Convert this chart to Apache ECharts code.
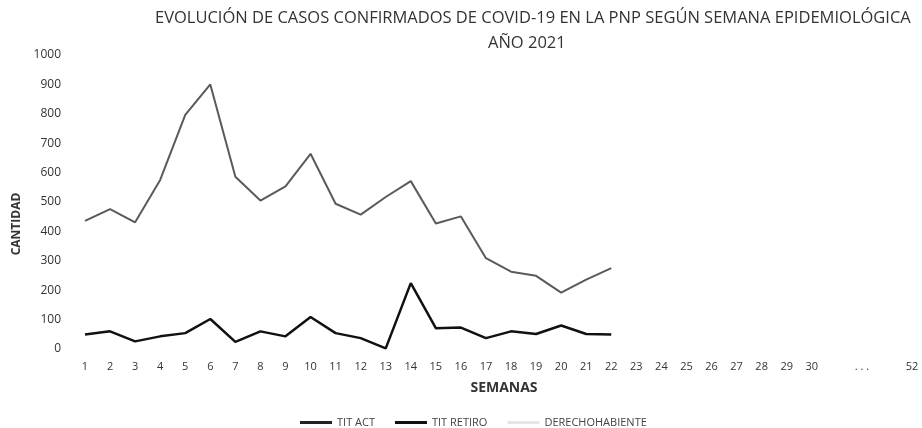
<!DOCTYPE html>
<html>
<head>
<meta charset="utf-8">
<script src="https://cdn.jsdelivr.net/npm/echarts@6/dist/echarts.min.js"></script>
<style>html,body{margin:0;padding:0;background:#fff}#c{width:922px;height:428px}</style>
</head>
<body>
<div id="c"></div>
<script>
var weeks = ['1','2','3','4','5','6','7','8','9','10','11','12','13','14','15','16','17','18','19','20','21','22','23','24','25','26','27','28','29','30','','. . .','','52'];
var titAct = [436, 476, 431, 575, 796, 900, 586, 505, 553, 664, 494, 457, 517, 571, 427, 451, 309, 263, 249, 192, 236, 275];
var titRetiro = [49, 60, 26, 43, 54, 102, 24, 60, 43, 109, 54, 37, 2, 224, 71, 73, 37, 60, 51, 80, 51, 49];
var derechohabiente = [];
var yTicks = [0, 100, 200, 300, 400, 500, 600, 700, 800, 900, 1000];

var chart = echarts.init(document.getElementById('c'));
var font = 'Open Sans';
chart.setOption({
  animation: false,
  backgroundColor: '#fff',
  title: [
    {text: 'EVOLUCIÓN DE CASOS CONFIRMADOS DE COVID-19 EN LA PNP SEGÚN SEMANA EPIDEMIOLÓGICA', left: 150, top: 5,
     textStyle: {fontFamily: font, fontSize: 16.5, fontWeight: 'normal', color: '#333'}},
    {text: 'AÑO 2021', left: 483, top: 30,
     textStyle: {fontFamily: font, fontSize: 16.5, fontWeight: 'normal', color: '#333'}}
  ],
  legend: {
    left: 295, top: 412, itemGap: 20, itemWidth: 32, itemHeight: 3, icon: 'rect',
    textStyle: {fontFamily: font, fontSize: 11, color: '#444'},
    data: ['TIT ACT', 'TIT RETIRO', 'DERECHOHABIENTE']
  },
  grid: {left: 85, right: 10, top: 55, bottom: 79, containLabel: false},
  xAxis: {
    type: 'category', data: weeks, boundaryGap: false,
    axisLine: {show: false}, axisTick: {show: false}, splitLine: {show: false},
    axisLabel: {interval: 0, margin: 12, fontFamily: font, fontSize: 11, color: '#333'},
    name: 'SEMANAS', nameLocation: 'middle', nameGap: 32,
    nameTextStyle: {fontFamily: font, fontSize: 14, fontWeight: 'bold', color: '#333', padding: [0, 0, 0, 11]}
  },
  yAxis: {
    type: 'value', min: 0, max: 1000, interval: 100,
    axisLine: {show: false}, axisTick: {show: false}, splitLine: {show: false},
    axisLabel: {margin: 24, fontFamily: font, fontSize: 12, color: '#333',
      formatter: function (v) { return yTicks.indexOf(v) >= 0 ? String(v) : ''; }},
    name: 'CANTIDAD', nameLocation: 'middle', nameGap: 59,
    nameTextStyle: {fontFamily: font, fontSize: 12, fontWeight: 'bold', color: '#333', padding: [0, 44, 0, 0]}
  },
  series: [
    {name: 'TIT ACT', type: 'line', data: titAct, symbol: 'none',
     lineStyle: {color: '#5a5a5a', width: 2}, itemStyle: {color: '#222'}},
    {name: 'TIT RETIRO', type: 'line', data: titRetiro, symbol: 'none',
     lineStyle: {color: '#111', width: 2.5}, itemStyle: {color: '#111'}},
    {name: 'DERECHOHABIENTE', type: 'line', data: derechohabiente, symbol: 'none',
     lineStyle: {color: '#e6e6e6', width: 2}, itemStyle: {color: '#e6e6e6'}}
  ]
});
</script>
</body>
</html>
